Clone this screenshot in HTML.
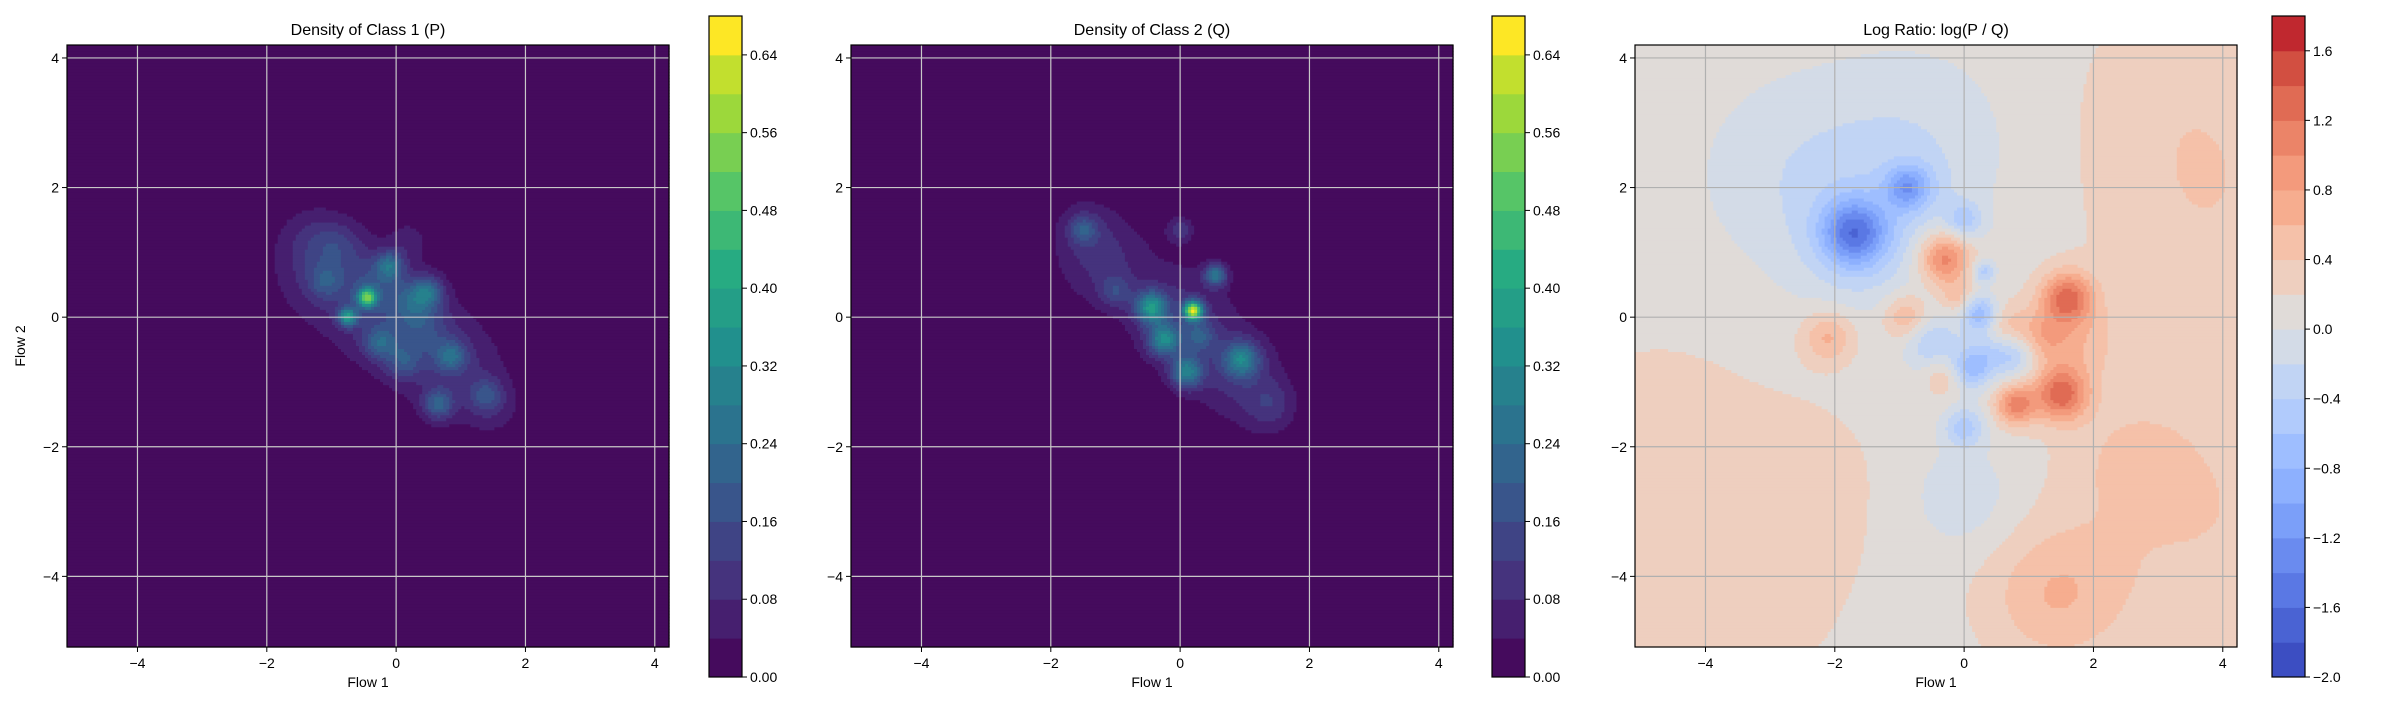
<!DOCTYPE html>
<html><head><meta charset="utf-8">
<style>
html,body{margin:0;padding:0;background:#fff;}
svg text{font-family:"Liberation Sans",sans-serif;fill:#000;}
</style></head>
<body>
<svg id="fig" width="2400" height="700" viewBox="0 0 2400 700" xmlns="http://www.w3.org/2000/svg"></svg>
<script>
// ---- data ----
const xTicks = [-4, -2, 0, 2, 4];
const yTicks = [-4, -2, 0, 2, 4];
const densityLevels = [0,0.04,0.08,0.12,0.16,0.20,0.24,0.28,0.32,0.36,0.40,0.44,0.48,0.52,0.56,0.60,0.64,0.68];
const densityTickLabels = ["0.00","0.08","0.16","0.24","0.32","0.40","0.48","0.56","0.64"];
const ratioLevels = [-2.0,-1.8,-1.6,-1.4,-1.2,-1.0,-0.8,-0.6,-0.4,-0.2,0.0,0.2,0.4,0.6,0.8,1.0,1.2,1.4,1.6,1.8];
const ratioTickLabels = ["\u22122.0","\u22121.6","\u22121.2","\u22120.8","\u22120.4","0.0","0.4","0.8","1.2","1.6"];
const titles = ["Density of Class 1 (P)", "Density of Class 2 (Q)", "Log Ratio: log(P / Q)"];

// Class 1 (P) components: centre x, centre y, peak, spread
const pX =   [-1.1, -0.1, 0.9, -1.3, 1.5, -0.45, -0.75, -0.1, 0.3, 0.5, 0.85, 0.65, 1.4, -1.1, -0.25, 0.1, -0.9, 0.2, -0.3, 0.4];
const pY =   [0.7, 0.0, -0.8, 1.2, -1.4, 0.3, 0.0, 0.8, 0.25, 0.4, -0.6, -1.35, -1.2, 0.55, -0.4, -0.7, 1.1, 1.2, 0.5, -0.2];
const pAmp = [0.09, 0.1, 0.09, 0.05, 0.05, 0.4, 0.3, 0.18, 0.12, 0.16, 0.16, 0.17, 0.11, 0.1, 0.15, 0.11, 0.06, 0.05, 0.08, 0.08];
const pSig = [0.55, 0.6, 0.55, 0.35, 0.3, 0.1, 0.1, 0.15, 0.22, 0.16, 0.16, 0.16, 0.17, 0.18, 0.17, 0.18, 0.25, 0.2, 0.3, 0.3];

// Class 2 (Q) components
const qX =   [-1.2, 0.0, 0.9, -1.5, 1.4, 0.2, -0.45, -0.25, 0.1, 0.95, 0.55, -1.5, 0.0, -1.0, 0.3, 1.4];
const qY =   [0.9, 0.0, -0.9, 1.4, -1.5, 0.1, 0.15, -0.35, -0.85, -0.65, 0.65, 1.35, 1.35, 0.4, -0.3, -1.3];
const qAmp = [0.09, 0.1, 0.09, 0.05, 0.04, 0.55, 0.3, 0.26, 0.26, 0.24, 0.24, 0.12, 0.1, 0.1, 0.12, 0.05];
const qSig = [0.5, 0.55, 0.5, 0.3, 0.3, 0.1, 0.17, 0.17, 0.17, 0.19, 0.12, 0.14, 0.14, 0.17, 0.17, 0.25];

// Log ratio: base value plus components
const ratioBase = 0.1;
const rX =   [-1.7, -0.8, -1.6, 0.25, 0.1, 0.8, 0.0, -0.5, -0.8, 0.0, -0.3, 1.6, 1.5, 0.8, -2.1, -0.9, 1.4, 3.6, 3.8, -3.8, -4.8, 3.4, 1.6, -2.6, 0.3, 0.6, -0.1, -0.3, 0.0, -0.9, 0.4, 1.2, 2.6, -2.5];
const rY =   [1.3, 2.0, 1.1, 0.05, -0.8, -0.6, -1.7, -0.4, 2.6, -2.8, 0.9, 0.3, -1.2, -1.35, -0.3, 0.0, -4.3, -3.0, 1.6, -3.8, -1.8, 3.6, -0.4, 2.2, 0.7, -0.15, 0.3, -0.9, 1.5, 2.0, -0.5, -0.3, -2.2, -2.4];
const rAmp = [-1.2, -0.5, -0.35, -0.9, -0.8, -0.55, -0.6, -0.5, -0.28, -0.25, 1.05, 1.05, 1.1, 0.95, 0.55, 0.55, 0.45, 0.3, 0.25, 0.22, 0.18, 0.18, 0.45, -0.25, -0.6, 0.4, 0.4, 0.35, -0.55, -0.5, -0.4, 0.35, 0.2, 0.12];
const rSig = [0.35, 0.3, 0.7, 0.2, 0.22, 0.25, 0.22, 0.3, 1.0, 0.6, 0.28, 0.28, 0.28, 0.22, 0.28, 0.25, 0.75, 1.5, 1.3, 1.6, 1.0, 1.2, 0.5, 1.0, 0.12, 0.25, 0.18, 0.22, 0.2, 0.2, 0.25, 0.25, 0.6, 0.8];

// ---- layout ----
const NS = "http://www.w3.org/2000/svg";
const svg = document.getElementById("fig");
const XMIN = -5.09, XMAX = 4.22, YMIN = -5.09, YMAX = 4.2;
const panels = [
  {left: 67, cb: 709},
  {left: 851, cb: 1492},
  {left: 1635, cb: 2272}
];
const AX_W = 602, AX_TOP = 45, AX_H = 602;
const CB_W = 33, CB_TOP = 16, CB_BOT = 677;

function mk(tag, attrs, parent) {
  const e = document.createElementNS(NS, tag);
  for (const k in attrs) e.setAttribute(k, attrs[k]);
  (parent || svg).appendChild(e);
  return e;
}
function lerpCmap(anchors, t) {
  t = Math.max(0, Math.min(1, t));
  const n = anchors.length - 1, f = t * n, i = Math.min(n - 1, Math.floor(f)), u = f - i;
  const a = anchors[i], b = anchors[i + 1];
  return "rgb(" + [0,1,2].map(k => Math.round(a[k] + (b[k] - a[k]) * u)).join(",") + ")";
}
const viridisA = [[68,1,84],[71,44,122],[59,81,139],[44,113,142],[33,144,141],[39,173,129],[92,200,99],[170,220,50],[253,231,37]];
const viridisColors = [];
for (let i = 0; i < 17; i++) viridisColors.push(lerpCmap(viridisA, (i + 0.5) / 17));
viridisColors[16] = "#fde725";
const coolwarmColors = ["#3c4ec2","#4a63d3","#5a78e4","#6a8bef","#7b9ff9","#8db0fe","#9ebeff","#b1cbfc","#c1d4f4","#d3dbe7","#e0dbd8","#eecfbf","#f5c1a9","#f6ad8f","#f39a7c","#eb8468","#e06b54","#d24f41","#c0282f"];

function gaussSum(xs, ys, amps, sigs, x, y) {
  let s = 0;
  for (let i = 0; i < xs.length; i++) {
    const dx = x - xs[i], dy = y - ys[i];
    s += amps[i] * Math.exp(-(dx*dx + dy*dy) / (2 * sigs[i] * sigs[i]));
  }
  return s;
}
function bandIndex(levels, v) {
  let b = 0;
  for (let i = 1; i < levels.length - 1; i++) if (v >= levels[i]) b = i;
  return b;
}

function drawPanel(p, idx, fieldFn, levels, colors) {
  const g = mk("g", {});
  
  
  const sx = v => p.left + (v - XMIN) / (XMAX - XMIN) * AX_W;
  const sy = v => AX_TOP + (YMAX - v) / (YMAX - YMIN) * AX_H;
  const nb = levels.length - 1;
  const field = mk("g", {}, g);
  
  
  const N = 200, cw = AX_W / N, ch = AX_H / N;
  for (let r = 0; r < N; r++) {
    const y = YMAX - (r + 0.5) / N * (YMAX - YMIN);
    let runStart = 0, runBand = -1;
    for (let c = 0; c <= N; c++) {
      let b = -2;
      if (c < N) {
        const x = XMIN + (c + 0.5) / N * (XMAX - XMIN);
        b = bandIndex(levels, fieldFn(x, y));
      }
      if (b !== runBand) {
        if (runBand >= 0) {
          const rc = mk("rect", {x: (p.left + runStart * cw).toFixed(2), y: (AX_TOP + r * ch).toFixed(2),
            width: ((c - runStart) * cw + 0.6).toFixed(2), height: (ch + 0.6).toFixed(2), fill: colors[runBand]}, field);
          
          
        }
        runStart = c; runBand = b;
      }
    }
  }
  const gridCol = idx < 2 ? "#c8c8c8" : "#b0b0b0";
  xTicks.forEach(t => {
    const l = mk("line", {x1: sx(t), x2: sx(t), y1: AX_TOP, y2: AX_TOP + AX_H, stroke: gridCol, "stroke-width": 1.2}, g);
    
    
    const tk = mk("line", {x1: sx(t), x2: sx(t), y1: AX_TOP + AX_H, y2: AX_TOP + AX_H + 5, stroke: "#000", "stroke-width": 1}, g);
    
    
    const tx = mk("text", {x: sx(t), y: AX_TOP + AX_H + 21, "font-size": 14, "text-anchor": "middle"}, g);
    tx.textContent = t < 0 ? "\u2212" + (-t) : String(t);
    
    
  });
  yTicks.forEach(t => {
    const l = mk("line", {x1: p.left, x2: p.left + AX_W, y1: sy(t), y2: sy(t), stroke: gridCol, "stroke-width": 1.2}, g);
    
    
    const tk = mk("line", {x1: p.left - 5, x2: p.left, y1: sy(t), y2: sy(t), stroke: "#000", "stroke-width": 1}, g);
    
    
    const tx = mk("text", {x: p.left - 8, y: sy(t) + 5, "font-size": 14, "text-anchor": "end"}, g);
    tx.textContent = t < 0 ? "\u2212" + (-t) : String(t);
    
    
  });
  const fr = mk("rect", {x: p.left, y: AX_TOP, width: AX_W, height: AX_H, fill: "none", stroke: "#000", "stroke-width": 1.2}, g);
  
  
  const tt = mk("text", {x: p.left + AX_W / 2, y: 35, "font-size": 16, "text-anchor": "middle"}, g);
  tt.textContent = titles[idx];
  
  
  const xl = mk("text", {x: p.left + AX_W / 2, y: 687, "font-size": 14, "text-anchor": "middle"}, g);
  xl.textContent = "Flow 1";
  
  
  if (idx === 0) {
    const yl = mk("text", {x: 0, y: 0, "font-size": 14, "text-anchor": "middle", transform: "translate(25," + (AX_TOP + AX_H / 2) + ") rotate(-90)"}, g);
    yl.textContent = "Flow 2";
    
    
  }
  const cb = mk("g", {}, g);
  
  
  const lmin = levels[0], lmax = levels[levels.length - 1];
  const cy = v => CB_BOT - (v - lmin) / (lmax - lmin) * (CB_BOT - CB_TOP);
  for (let i = 0; i < nb; i++) {
    const r = mk("rect", {x: p.cb, y: cy(levels[i + 1]), width: CB_W, height: cy(levels[i]) - cy(levels[i + 1]) + 0.5, fill: colors[i]}, cb);
    
    
  }
  const cf = mk("rect", {x: p.cb, y: CB_TOP, width: CB_W, height: CB_BOT - CB_TOP, fill: "none", stroke: "#000", "stroke-width": 1.2}, cb);
  
  
  return {cb, cy};
}

function cbTicks(res, p, labels) {
  labels.forEach(lab => {
    const v = parseFloat(lab.replace("\u2212", "-"));
    const y = res.cy(v);
    const tk = mk("line", {x1: p.cb + CB_W, x2: p.cb + CB_W + 5, y1: y, y2: y, stroke: "#000", "stroke-width": 1}, res.cb);
    
    
    const t = mk("text", {x: p.cb + CB_W + 8, y: y + 5, "font-size": 14}, res.cb);
    t.textContent = lab;
    
    
  });
}

const fP = (x, y) => gaussSum(pX, pY, pAmp, pSig, x, y);
const fQ = (x, y) => gaussSum(qX, qY, qAmp, qSig, x, y);
const fR = (x, y) => ratioBase + gaussSum(rX, rY, rAmp, rSig, x, y);

const r1 = drawPanel(panels[0], 0, fP, densityLevels, viridisColors);
cbTicks(r1, panels[0], densityTickLabels);
const r2 = drawPanel(panels[1], 1, fQ, densityLevels, viridisColors);
cbTicks(r2, panels[1], densityTickLabels);
const r3 = drawPanel(panels[2], 2, fR, ratioLevels, coolwarmColors);
cbTicks(r3, panels[2], ratioTickLabels);
</script>
</body></html>
